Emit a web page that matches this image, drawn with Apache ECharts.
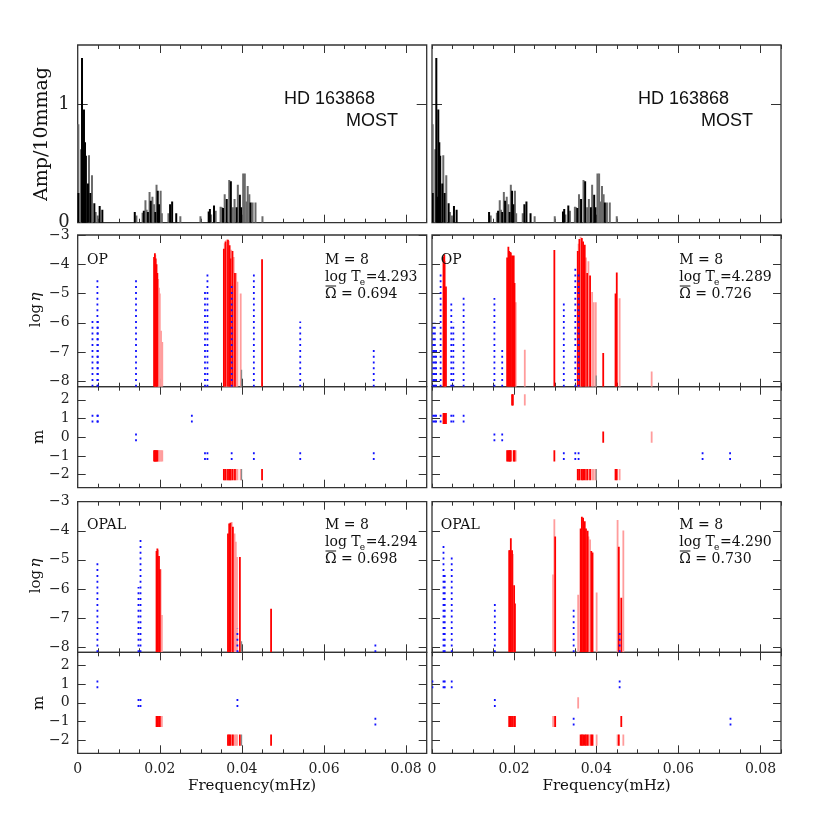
<!DOCTYPE html>
<html><head><meta charset="utf-8">
<script src="https://cdn.jsdelivr.net/npm/echarts@6/dist/echarts.min.js"></script>
<style>html,body{margin:0;padding:0;background:#fff}#c{width:830px;height:830px}</style>
</head><body><div id="c"></div>
<script>
// ---------------- DATA ----------------
// MOST amplitude spectrum: [frequency mHz, amplitude (10 mmag), shade 0=black 1=gray]
const spectrum = [
  [0.00016,0.83,1],[0.00018,0.25,0],[0.0008,0.62,1],[0.00105,1.39,0],[0.0013,0.22,0],
  [0.00153,0.955,0],[0.00178,0.68,0],[0.0020,0.565,0],[0.0025,0.33,0],[0.00275,0.57,1],
  [0.00307,0.25,0],[0.00348,0.40,1],[0.00405,0.165,0],[0.00437,0.09,1],[0.00486,0.06,1],
  [0.00535,0.14,0],[0.0060,0.11,0],[0.0139,0.09,0],[0.0143,0.06,1],
  [0.0158,0.085,1],[0.0161,0.10,0],[0.0165,0.19,1],[0.0168,0.11,1],[0.0171,0.09,0],
  [0.0175,0.26,1],[0.0178,0.185,0],[0.0182,0.22,1],[0.0186,0.155,1],[0.0189,0.09,0],
  [0.0192,0.32,1],[0.0195,0.27,0],[0.0198,0.155,0],[0.0202,0.27,1],[0.0205,0.08,1],
  [0.0221,0.08,1],[0.0225,0.155,0],[0.0230,0.18,0],[0.0240,0.08,0],[0.0250,0.055,1],
  [0.0299,0.055,1],[0.0319,0.095,0],[0.0322,0.115,0],[0.0325,0.07,1],[0.0332,0.145,0],
  [0.0336,0.10,1],[0.0348,0.135,1],[0.0351,0.13,1],[0.0354,0.125,0],[0.0358,0.24,1],
  [0.0363,0.20,0],[0.0369,0.36,1],[0.0373,0.35,0],[0.0378,0.13,1],[0.0382,0.20,1],
  [0.0387,0.13,0],[0.0390,0.32,1],[0.0395,0.235,0],[0.0398,0.13,0],[0.0403,0.415,1],
  [0.0407,0.415,1],[0.0411,0.18,1],[0.0414,0.31,1],[0.0418,0.24,1],[0.0421,0.17,0],
  [0.0426,0.17,1],[0.0433,0.17,1],[0.0450,0.055,1]
];

// Unstable modes: [frequency, log eta, m, shade 0=red 1=pink 2=gray]
const opLeftRed = [
  [0.0186,-3.75,-1,0],[0.0188,-3.62,-1,0],[0.0189,-3.68,-1,1],[0.0190,-3.8,-1,0],
  [0.0192,-4.0,-1,0],[0.0194,-4.3,-1,0],[0.0196,-4.5,-1,1],[0.0198,-4.8,-1,1],
  [0.0200,-5.0,-1,1],[0.0203,-6.27,-1,1],[0.0206,-6.65,-1,1],
  [0.0356,-3.47,-2,0],[0.0358,-3.28,-2,1],[0.0360,-3.22,-2,0],[0.0362,-3.17,-2,1],
  [0.0364,-3.15,-2,1],[0.0366,-3.16,-2,0],[0.0368,-3.2,-2,1],[0.0370,-3.35,-2,0],
  [0.0372,-3.8,-2,0],[0.0374,-3.5,-2,1],[0.0377,-3.55,-2,0],[0.0380,-3.75,-2,1],
  [0.0383,-4.3,-2,0],[0.0386,-4.3,-2,1],[0.0389,-4.6,-2,1],[0.0397,-5.0,-2,1],
  [0.0399,-7.6,-2,2],[0.0449,-3.83,-2,0]
];
// Stable / other modes drawn dotted blue: [frequency, log eta, m]
const opLeftBlue = [
  [0.0036,-5.8,1],[0.0048,-4.5,1],[0.0049,-5.8,1],[0.0142,-4.5,0],[0.0278,-8.5,1],
  [0.0310,-4.9,-1],[0.0316,-4.3,-1],[0.0375,-4.7,-1],[0.0429,-4.35,-1],
  [0.0542,-5.95,-1],[0.0721,-6.8,-1]
];

const opRightRed = [
  [0.0028,-3.75,1,0],[0.0030,-3.66,1,0],[0.0032,-3.9,1,1],[0.0034,-4.76,1,0],
  [0.0183,-3.77,-1,0],[0.0186,-3.4,-1,0],[0.0188,-3.55,-1,0],[0.0190,-3.58,-1,0],[0.0192,-3.6,-1,0],
  [0.0195,-3.7,2,0],[0.0197,-3.72,2,0],[0.0199,-3.7,-1,0],[0.0201,-4.64,-1,0],
  [0.0204,-5.3,-1,1],[0.0226,-6.92,2,1],[0.0298,-3.51,-1,0],
  [0.0355,-3.55,-2,0],[0.0357,-3.3,-2,1],[0.0359,-3.14,-2,0],[0.0362,-3.06,-2,1],[0.0365,-3.1,-2,0],
  [0.0368,-3.22,-2,0],[0.0372,-3.33,-2,0],[0.0375,-3.77,-2,1],[0.0378,-4.3,-2,0],
  [0.0381,-3.9,-2,1],[0.0385,-4.38,-2,0],[0.0390,-4.95,-2,1],[0.0394,-5.3,-2,1],
  [0.0399,-5.3,-2,1],[0.0400,-7.8,-2,2],[0.0417,-7.03,0,0],
  [0.0447,-5.0,-2,0],[0.0450,-4.28,-2,0],[0.0457,-5.16,-2,1],[0.0535,-7.66,0,1]
];
const opRightBlue = [
  [0.0003,-6.0,1],[0.0007,-6.0,1],[0.0010,-6.9,1],[0.0021,-4.25,1],[0.0047,-5.25,1],
  [0.0052,-6.0,1],[0.0077,-5.1,1],[0.0152,-5.15,0],[0.0171,-6.8,0],[0.0321,-5.33,-1],
  [0.0349,-4.13,-1],[0.0357,-4.3,-1],[0.0659,-8.5,-1],[0.0726,-8.5,-1]
];

const opalLeftRed = [
  [0.0192,-4.7,-1,0],[0.0194,-4.61,-1,0],[0.0196,-4.65,-1,1],[0.0198,-4.87,-1,0],
  [0.0200,-5.32,-1,0],[0.0202,-5.32,-1,1],[0.0205,-6.9,-1,1],
  [0.0366,-4.09,-2,0],[0.0369,-3.75,-2,0],[0.0372,-3.72,-2,0],[0.0375,-3.7,-2,1],
  [0.0378,-3.86,-2,0],[0.0382,-4.09,-2,1],[0.0385,-4.38,-2,1],[0.0388,-4.9,-2,1],
  [0.0395,-4.9,-2,0],[0.0399,-7.8,-2,2],[0.0471,-6.68,-2,0]
];
const opalLeftBlue = [
  [0.0048,-5.07,1],[0.0148,-5.93,0],[0.0153,-4.2,0],[0.0389,-7.37,0],[0.0725,-7.9,-1]
];

const opalRightRed = [
  [0.0188,-4.67,-1,0],[0.0190,-4.67,-1,0],[0.0192,-4.26,-1,0],[0.0195,-4.67,-1,0],
  [0.0197,-4.8,-1,1],[0.0200,-5.87,-1,0],[0.0202,-6.5,-1,0],
  [0.0295,-5.5,-1,1],[0.0298,-3.6,-1,1],[0.0300,-4.2,-1,0],
  [0.0356,-6.2,0,1],[0.0362,-3.92,-2,0],[0.0365,-3.52,-2,0],[0.0368,-3.55,-2,0],
  [0.0372,-3.67,-2,0],[0.0375,-3.92,-2,0],[0.0379,-4.0,-2,0],[0.0381,-4.2,-2,1],
  [0.0385,-4.3,-2,1],[0.0388,-4.7,-2,0],[0.0391,-4.75,-2,0],[0.0401,-6.12,-2,1],
  [0.0452,-3.63,-2,1],[0.0455,-4.55,-2,0],[0.0461,-6.3,-1,0],[0.0466,-3.99,-2,1]
];
const opalRightBlue = [
  [0.0001,-8.5,1],[0.0028,-4.43,1],[0.0031,-5.5,1],[0.0048,-4.87,1],[0.0153,-6.42,0],
  [0.0345,-6.62,-1],[0.0457,-7.48,1],[0.0727,-8.5,-1]
];

const freqTicks = [0, 0.02, 0.04, 0.06, 0.08];
const etaTicks = [-8, -7, -6, -5, -4, -3];
const mTicks = [-2, -1, 0, 1, 2];
const ampTicks = [0, 1];

const panelInfo = [
  {label:'OP',   M:'8', logTe:'4.293', omega:'0.694'},
  {label:'OP',   M:'8', logTe:'4.289', omega:'0.726'},
  {label:'OPAL', M:'8', logTe:'4.294', omega:'0.698'},
  {label:'OPAL', M:'8', logTe:'4.290', omega:'0.730'}
];

// ---------------- LAYOUT ----------------
const FMAX = 0.085, AMP_MAX = 1.5, ETA_MIN = -8.18, ETA_MAX = -3, M_MIN = -2.7, M_MAX = 2.7;
const cols = [{left:77.7, width:349}, {left:432, width:349}];
const rows = [
  {top:45, height:177.7, kind:'amp'},
  {top:235, height:151.7, kind:'eta'},
  {top:386.7, height:101, kind:'m'},
  {top:501.7, height:150.6, kind:'eta'},
  {top:652.3, height:101, kind:'m'}
];
const SERIF = 'DejaVu Serif';
const AX = '#333';
const RED = '#ff0000', PINK = '#ff9c9c', GRAY = '#8a8a8a', BLUE = '#1010ff';

const minorF = []; for (let i = 0; i <= 17; i++) minorF.push(+(i*0.005).toFixed(3));
const majorF = [0.02, 0.04, 0.06, 0.08];

const grids = [], xAxes = [], yAxes = [], series = [];
rows.forEach((r, ri) => cols.forEach((c, ci) => {
  const gi = ri*2 + ci;
  grids.push({left:c.left, width:c.width, top:r.top, height:r.height, show:true,
    borderColor:AX, borderWidth:1.3, backgroundColor:'transparent', containLabel:false});
  const bottomLabels = (ri === 4);
  const mkX = (pos, ticks, len, labels) => ({
    type:'value', gridIndex:gi, position:pos, min:0, max:FMAX,
    axisLine:{show:false, onZero:false}, splitLine:{show:false},
    axisTick:{show:true, inside:true, length:len, customValues:ticks, lineStyle:{color:AX, width:1}},
    axisLabel: labels ? {show:true, customValues:freqTicks, margin:9,
      formatter:v => v === 0 ? '0' : v.toFixed(2), fontFamily:SERIF, fontSize:14, color:'#222'} : {show:false}
  });
  xAxes.push(mkX('bottom', minorF, 4, bottomLabels));
  xAxes.push(mkX('bottom', majorF, 8, false));
  xAxes.push(mkX('top', minorF, 4, false));
  xAxes.push(mkX('top', majorF, 8, false));
  let ymin, ymax, yt, fs;
  if (r.kind === 'amp') { ymin = 0; ymax = AMP_MAX; yt = ampTicks; fs = 18; }
  else if (r.kind === 'eta') { ymin = ETA_MIN; ymax = ETA_MAX; yt = etaTicks; fs = 14; }
  else { ymin = M_MIN; ymax = M_MAX; yt = mTicks; fs = 14; }
  const mkY = (pos, labels) => ({
    type:'value', gridIndex:gi, position:pos, min:ymin, max:ymax,
    axisLine:{show:false, onZero:false}, splitLine:{show:false},
    axisTick:{show:true, inside:true, length:r.kind === 'amp' ? 10 : 8, customValues:yt, lineStyle:{color:AX, width:1}},
    axisLabel: labels ? {show:true, customValues:yt, margin:8,
      formatter:v => v < 0 ? '\u2212' + Math.abs(v) : String(v), fontFamily:SERIF, fontSize:fs, color:'#222'} : {show:false}
  });
  yAxes.push(mkY('left', ci === 0));
  yAxes.push(mkY('right', false));
}));

function lineItem(a, b, color, width, dash) {
  return {type:'line', shape:{x1:a[0], y1:a[1], x2:b[0], y2:b[1]},
    style:{stroke:color, lineWidth:width, lineDash:dash || null}};
}
function specSeries(gi, shade, color) {
  return {type:'custom', xAxisIndex:gi*4, yAxisIndex:gi*2, clip:true, silent:true,
    data: spectrum.filter(d => d[2] === shade).map(d => [d[0], d[1]]),
    renderItem:(p, api) => lineItem(api.coord([api.value(0), 0]), api.coord([api.value(0), api.value(1)]), color, 2)};
}
function etaSeries(gi, list, color, width, dash) {
  return {type:'custom', xAxisIndex:gi*4, yAxisIndex:gi*2, clip:true, silent:true,
    data: list.map(d => [d[0], d[1]]),
    renderItem:(p, api) => {
      const f = api.value(0), e = api.value(1);
      if (e <= ETA_MIN) return null;
      return lineItem(api.coord([f, ETA_MIN]), api.coord([f, e]), color, width, dash);
    }};
}
function mSeries(gi, list, color, width, dash, h) {
  return {type:'custom', xAxisIndex:gi*4, yAxisIndex:gi*2, clip:true, silent:true,
    data: list.map(d => [d[0], d[2]]),
    renderItem:(p, api) => {
      const f = api.value(0), m = api.value(1);
      return lineItem(api.coord([f, m - h]), api.coord([f, m + h]), color, width, dash);
    }};
}

series.push(specSeries(0, 1, '#6a6a6a'), specSeries(0, 0, '#000'));
series.push(specSeries(1, 1, '#6a6a6a'), specSeries(1, 0, '#000'));
const panels = [
  {gEta:2, gM:4, red:opLeftRed, blue:opLeftBlue},
  {gEta:3, gM:5, red:opRightRed, blue:opRightBlue},
  {gEta:6, gM:8, red:opalLeftRed, blue:opalLeftBlue},
  {gEta:7, gM:9, red:opalRightRed, blue:opalRightBlue}
];
const DOT = [2, 3.8];
panels.forEach(p => {
  const pink = p.red.filter(d => d[3] === 1), red = p.red.filter(d => d[3] === 0), gray = p.red.filter(d => d[3] === 2);
  series.push(etaSeries(p.gEta, pink, PINK, 1.8), etaSeries(p.gEta, red, RED, 1.8),
    etaSeries(p.gEta, gray, GRAY, 1.3), etaSeries(p.gEta, p.blue, BLUE, 1.8, DOT));
  series.push(mSeries(p.gM, pink, PINK, 1.8, null, 0.3), mSeries(p.gM, red, RED, 1.8, null, 0.3),
    mSeries(p.gM, gray, GRAY, 1.3, null, 0.3), mSeries(p.gM, p.blue, BLUE, 1.8, DOT, 0.22));
});

// ---------------- TEXT ----------------
const mctx = document.createElement('canvas').getContext('2d');
function tw(s, size) { mctx.font = size + 'px "' + SERIF + '"'; return mctx.measureText(s).width; }
const graphic = [];
function txt(x, y, s, o) {
  o = o || {};
  graphic.push({type:'text', x:x, y:y, rotation:o.rot || 0, silent:true, z:100,
    style:{text:s, fill:'#111', font:(o.style || '') + ' ' + (o.size || 14) + 'px "' + (o.family || SERIF) + '"',
      textAlign:o.align || 'left', textVerticalAlign:'middle', align:o.align || 'left', verticalAlign:'middle'}});
}
// top panel titles
[[284, 398], [638, 753]].forEach(([hx, mx]) => {
  txt(hx, 99, 'HD 163868', {size:18, family:'Liberation Sans'});
  txt(mx, 121.5, 'MOST', {size:18, family:'Liberation Sans', align:'right'});
});
// panel annotations
const annPos = [
  {lx:87, tx:325, y0:265}, {lx:440.7, tx:679.3, y0:265},
  {lx:87, tx:325, y0:530}, {lx:440.7, tx:679.3, y0:530}
];
annPos.forEach((a, i) => {
  const info = panelInfo[i];
  const dy = -4.5;
  txt(a.lx, a.y0 + dy, info.label);
  txt(a.tx, a.y0 + dy, 'M = ' + info.M);
  const y2 = a.y0 + 17 + dy;
  txt(a.tx, y2, 'log T');
  const w1 = tw('log T', 14);
  txt(a.tx + w1 - 1, y2 + 5, 'e', {size:9});
  txt(a.tx + w1 + 5, y2, '=' + info.logTe);
  const y3 = a.y0 + 34 + dy;
  txt(a.tx, y3, 'Ω = ' + info.omega);
  const wo = tw('Ω', 14);
  graphic.push({type:'line', silent:true, z:100, shape:{x1:a.tx + 0.5, y1:y3 - 8.5, x2:a.tx + wo - 0.5, y2:y3 - 8.5},
    style:{stroke:'#111', lineWidth:1}});
});
// axis titles
txt(42, 134, 'Amp/10mmag', {size:19, rot:Math.PI/2, align:'center'});
[311, 577].forEach(y => {
  const w = tw('log ', 15) + tw('η', 15);
  const start = y + w/2;
  txt(36, start - tw('log ', 15)/2, 'log', {size:15, rot:Math.PI/2, align:'center'});
  txt(36, start - tw('log ', 15) - tw('η', 15)/2, 'η', {size:15, rot:Math.PI/2, align:'center', style:'italic'});
});
[437, 703].forEach(y => txt(39, y, 'm', {size:15, rot:Math.PI/2, align:'center'}));
txt(252, 786, 'Frequency(mHz)', {size:15, align:'center'});
txt(606.5, 786, 'Frequency(mHz)', {size:15, align:'center'});

const chart = echarts.init(document.getElementById('c'), null, {renderer:'canvas'});
chart.setOption({animation:false, backgroundColor:'#fff', grid:grids, xAxis:xAxes, yAxis:yAxes, series:series, graphic:graphic});
</script>
</body></html>
